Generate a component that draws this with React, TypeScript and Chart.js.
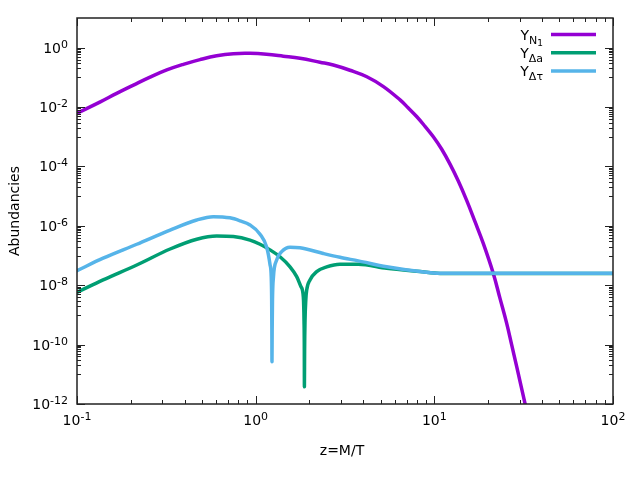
import { useEffect, useRef } from "react";
import { Chart, registerables } from "chart.js";

Chart.register(...registerables);

// ─── Data ─────────────────────────────────────────────────────────────────────
const n1Z = [0.1, 0.135, 0.1667, 0.207, 0.2563, 0.318, 0.3936, 0.488, 0.605, 0.75, 0.929, 1.15, 1.428, 1.77, 2.29, 2.72, 3.37, 4.19, 5.19, 6.43, 7.15, 7.96, 8.87, 9.87, 11.0, 12.24, 13.62, 15.17, 16.89, 18.79, 21.38, 23.31, 25.41, 27.1, 28.91, 32.17, 34.3];
const n1Y = [6.2e-3, 1.5e-2, 2.9e-2, 5.5e-2, 0.102, 0.178, 0.275, 0.398, 0.537, 0.631, 0.646, 0.603, 0.519, 0.44, 0.324, 0.261, 0.174, 0.105, 0.049, 1.74e-2, 9.3e-3, 4.8e-3, 2.24e-3, 1e-3, 3.8e-4, 1.2e-4, 3.24e-5, 7.2e-6, 1.38e-6, 2.57e-7, 2.5e-8, 3.6e-9, 5.2e-10, 9.8e-11, 1.8e-11, 1.05e-12, 1.9e-13];

const daZ = [0.1, 0.14, 0.216, 0.332, 0.468, 0.605, 0.75, 0.93, 1.058, 1.203, 1.368, 1.557, 1.697, 1.794, 1.848, 1.865, 1.872, 1.874, 1.879, 1.889, 1.908, 1.93, 2.014, 2.196, 2.498, 2.965, 3.753, 5.413, 8.315, 10.76, 100];
const daY = [5.75e-9, 1.51e-8, 4.79e-8, 1.66e-7, 3.55e-7, 4.57e-7, 4.37e-7, 3.31e-7, 2.4e-7, 1.55e-7, 9.1e-8, 4.17e-8, 1.95e-8, 8.9e-9, 4.07e-9, 6.3e-10, 6.3e-11, 3.8e-12, 6.3e-11, 6.3e-10, 3.16e-9, 6.9e-9, 1.51e-8, 2.88e-8, 4.17e-8, 5.13e-8, 5.13e-8, 3.72e-8, 2.88e-8, 2.5e-8, 2.5e-8];

const dtZ = [0.1, 0.14, 0.216, 0.332, 0.468, 0.579, 0.718, 0.817, 0.93, 1.058, 1.153, 1.203, 1.222, 1.229, 1.232, 1.234, 1.237, 1.242, 1.258, 1.311, 1.398, 1.557, 1.77, 2.39, 2.965, 3.753, 5.413, 8.315, 10.76, 100];
const dtY = [3.09e-8, 8.13e-8, 2.4e-7, 7.24e-7, 1.58e-6, 2.04e-6, 1.86e-6, 1.48e-6, 1.07e-6, 5.25e-7, 1.9e-7, 5.0e-8, 1.95e-8, 3.16e-9, 3.16e-10, 2.63e-11, 3.16e-10, 3.16e-9, 1.95e-8, 7.08e-8, 1.35e-7, 1.91e-7, 1.82e-7, 1.17e-7, 8.7e-8, 6.6e-8, 4.17e-8, 2.88e-8, 2.51e-8, 2.51e-8];

// tick values and the exponent shown in each label
const xMajorTicks = [0.1, 1, 10, 100];
const xTickExps = ["-1", "0", "1", "2"];
const yMajorTicks = [1, 1e-2, 1e-4, 1e-6, 1e-8, 1e-10, 1e-12];
const yTickExps = ["0", "-2", "-4", "-6", "-8", "-10", "-12"];

const COLORS = { n1: "#9400d3", da: "#009e73", dt: "#56b4e9" };
const FONT = "'DejaVu Sans', sans-serif";
const LINE_W = 3.5;

const toPoints = (zs: number[], ys: number[]) => zs.map((z, i) => ({ x: z, y: ys[i] }));

// ─── Gnuplot-style frame, ticks, labels, key ─────────────────────────────────
const framePlugin = {
  id: "frame",
  afterDatasetsDraw(chart: any) {
    const { ctx, chartArea: a, scales } = chart;
    const xs = scales.x, ys = scales.y;
    ctx.save();
    ctx.strokeStyle = "#222";
    ctx.fillStyle = "#000";

    // border
    ctx.lineWidth = 1.5;
    ctx.strokeRect(a.left, a.top, a.right - a.left, a.bottom - a.top);

    ctx.lineWidth = 1;
    const vTick = (px: number, len: number) => {
      ctx.beginPath();
      ctx.moveTo(px, a.bottom); ctx.lineTo(px, a.bottom - len);
      ctx.moveTo(px, a.top); ctx.lineTo(px, a.top + len);
      ctx.stroke();
    };
    const hTick = (py: number, len: number) => {
      ctx.beginPath();
      ctx.moveTo(a.left, py); ctx.lineTo(a.left + len, py);
      ctx.moveTo(a.right, py); ctx.lineTo(a.right - len, py);
      ctx.stroke();
    };

    // x ticks: decades + 2..9
    xMajorTicks.forEach((v) => vTick(Math.round(xs.getPixelForValue(v)) + 0.5, 8));
    xMajorTicks.slice(0, -1).forEach((v) => {
      for (let k = 2; k <= 9; k++) vTick(Math.round(xs.getPixelForValue(v * k)) + 0.5, 4);
    });

    // y ticks: every 2 decades, minors at k * 10^(odd decade)
    yMajorTicks.forEach((v) => hTick(Math.round(ys.getPixelForValue(v)) + 0.5, 8));
    yMajorTicks.forEach((v) => {
      for (let k = 1; k <= 9; k++) {
        const m = v * 10 * k;
        if (m < ys.max && m > ys.min) hTick(Math.round(ys.getPixelForValue(m)) + 0.5, 4);
      }
    });

    const power = (x: number, y: number, exp: string, align: "right" | "center") => {
      ctx.font = `14px ${FONT}`;
      const bw = ctx.measureText("10").width;
      ctx.font = `11px ${FONT}`;
      const ew = ctx.measureText(exp).width;
      const x0 = align === "right" ? x - bw - ew : x - (bw + ew) / 2;
      ctx.textAlign = "left";
      ctx.textBaseline = "alphabetic";
      ctx.font = `14px ${FONT}`;
      ctx.fillText("10", x0, y);
      ctx.font = `11px ${FONT}`;
      ctx.fillText(exp, x0 + bw, y - 5);
    };

    xMajorTicks.forEach((v, i) => power(xs.getPixelForValue(v), a.bottom + 21, xTickExps[i], "center"));
    yMajorTicks.forEach((v, i) => power(a.left - 9, ys.getPixelForValue(v) + 5, yTickExps[i], "right"));

    // axis titles
    ctx.font = `14px ${FONT}`;
    ctx.textAlign = "center";
    ctx.textBaseline = "middle";
    ctx.fillText("z=M/T", (a.left + a.right) / 2 - 3, 451);
    ctx.save();
    ctx.translate(15, (a.top + a.bottom) / 2);
    ctx.rotate(-Math.PI / 2);
    ctx.fillText("Abundancies", 0, 0);
    ctx.restore();

    // key
    const rows = [
      { sub: "N", subsub: "1", color: COLORS.n1 },
      { sub: "\u0394a", subsub: "", color: COLORS.da },
      { sub: "\u0394\u03c4", subsub: "", color: COLORS.dt },
    ];
    const textRight = a.right - 70;
    rows.forEach((r, i) => {
      const cy = a.top + 16.5 + i * 18.2;
      ctx.textAlign = "left";
      ctx.textBaseline = "alphabetic";
      ctx.font = `14px ${FONT}`;
      const yw = ctx.measureText("Y").width;
      ctx.font = `11px ${FONT}`;
      const sw = ctx.measureText(r.sub).width;
      ctx.font = `9px ${FONT}`;
      const ssw = r.subsub ? ctx.measureText(r.subsub).width : 0;
      const x0 = textRight - yw - sw - ssw;
      ctx.font = `14px ${FONT}`;
      ctx.fillText("Y", x0, cy + 5.5);
      ctx.font = `11px ${FONT}`;
      ctx.fillText(r.sub, x0 + yw, cy + 9);
      if (r.subsub) {
        ctx.font = `9px ${FONT}`;
        ctx.fillText(r.subsub, x0 + yw + sw, cy + 11);
      }
      ctx.strokeStyle = r.color;
      ctx.lineWidth = LINE_W;
      ctx.beginPath();
      ctx.moveTo(a.right - 62, cy);
      ctx.lineTo(a.right - 17, cy);
      ctx.stroke();
    });

    ctx.restore();
  },
};

// ─── Component ────────────────────────────────────────────────────────────────
export default function App() {
  const canvasRef = useRef<HTMLCanvasElement | null>(null);
  const chartRef = useRef<any>(null);

  useEffect(() => {
    if (!canvasRef.current) return;
    if (chartRef.current) chartRef.current.destroy();

    const line = (data: { x: number; y: number }[], color: string, order: number, smooth: boolean) => ({
      data,
      borderColor: color,
      backgroundColor: color,
      borderWidth: LINE_W,
      pointRadius: 0,
      showLine: true,
      // the purple curve has no cusp, so a plain bezier keeps it smooth
      cubicInterpolationMode: smooth ? ("default" as const) : ("monotone" as const),
      tension: smooth ? 0.4 : 0,
      borderCapStyle: "round" as const,
      borderJoinStyle: "round" as const,
      clip: 0,
      order,
    });

    chartRef.current = new Chart(canvasRef.current, {
      type: "scatter",
      data: {
        datasets: [
          line(toPoints(n1Z, n1Y), COLORS.n1, 3, true),
          line(toPoints(daZ, daY), COLORS.da, 2, false),
          line(toPoints(dtZ, dtY), COLORS.dt, 1, false),
        ],
      },
      options: {
        animation: false,
        responsive: false,
        devicePixelRatio: 1,
        layout: { padding: { left: 77, right: 27, top: 18, bottom: 76 } },
        plugins: { legend: { display: false }, tooltip: { enabled: false } },
        scales: {
          x: { type: "logarithmic", min: 0.1, max: 100, display: false },
          y: { type: "logarithmic", min: 1e-12, max: 10, display: false },
        },
      },
      plugins: [framePlugin],
    });

    return () => { if (chartRef.current) chartRef.current.destroy(); };
  }, []);

  return (
    <>
      <style>{`
        html, body { margin: 0; padding: 0; background: #fff; }
      `}</style>
      <div style={{ width: 640, height: 480 }}>
        <canvas ref={canvasRef} width={640} height={480} style={{ display: "block" }} />
      </div>
    </>
  );
}
